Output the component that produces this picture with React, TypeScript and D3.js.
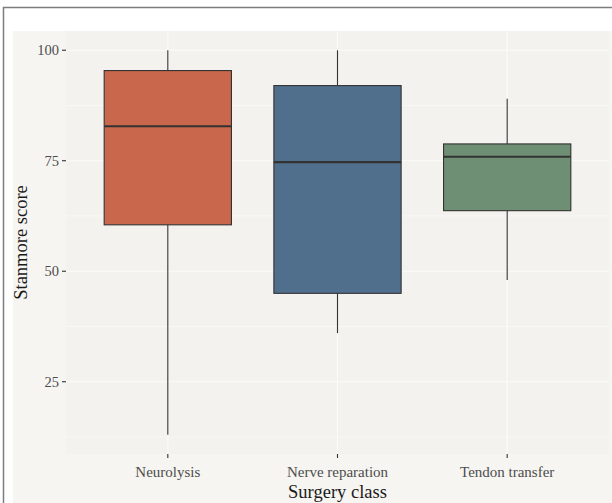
import React from "react";
import * as d3 from "d3";

// Surgery classes and their box-plot summaries (Stanmore score)
const categories = ["Neurolysis", "Nerve reparation", "Tendon transfer"];
const lowerWhisker = [13, 36, 48];
const lowerQuartile = [60.5, 45, 63.7];
const medianValue = [82.8, 74.7, 75.9];
const upperQuartile = [95.4, 92, 78.8];
const upperWhisker = [100, 100, 89];
const fillColors = ["#c8674b", "#4f6f8c", "#6f8f74"];
const yTicks = [25, 50, 75, 100];
const yMinorTicks = [12.5, 37.5, 62.5, 87.5];

const W = 612;
const H = 503;
const panel = { left: 66, right: 609, top: 31, bottom: 454 };
const FONT = "'Liberation Serif', 'Times New Roman', serif";

export default function App() {
  const lo = d3.min(lowerWhisker) as number;
  const hi = d3.max(upperWhisker) as number;
  const pad = (hi - lo) * 0.05;
  const y = d3
    .scaleLinear()
    .domain([lo - pad, hi + pad])
    .range([panel.bottom, panel.top]);
  const x = d3
    .scalePoint<string>()
    .domain(categories)
    .range([panel.left, panel.right])
    .padding(0.6);
  const boxW = x.step() * 0.75;
  const gridColor = "#fbfbf9";

  return (
    <svg
      width={W}
      height={H}
      style={{ position: "absolute", left: 0, top: 0, background: "#ffffff" }}
    >
      <rect x={3.5} y={7.5} width={W + 20} height={H + 20} fill="#ffffff" stroke="#7d7d7d" strokeWidth={1.5} />
      <rect x={13} y={31} width={W} height={H} fill="#f6f5f1" />
      <rect
        x={panel.left}
        y={panel.top}
        width={panel.right - panel.left}
        height={panel.bottom - panel.top}
        fill="#f3f2ee"
      />
      {/* grid */}
      {yMinorTicks.map((t) => (
        <line key={"m" + t} x1={panel.left} x2={panel.right} y1={y(t)} y2={y(t)} stroke={gridColor} strokeWidth={0.6} />
      ))}
      {yTicks.map((t) => (
        <line key={"g" + t} x1={panel.left} x2={panel.right} y1={y(t)} y2={y(t)} stroke={gridColor} strokeWidth={1.1} />
      ))}
      {categories.map((c) => (
        <line key={"v" + c} x1={x(c)} x2={x(c)} y1={panel.top} y2={panel.bottom} stroke={gridColor} strokeWidth={1.1} />
      ))}

      {/* boxes */}
      {categories.map((c, i) => {
        const cx = x(c) as number;
        return (
          <g key={c}>
            <line x1={cx} x2={cx} y1={y(upperWhisker[i])} y2={y(upperQuartile[i])} stroke="#333333" strokeWidth={1.1} />
            <line x1={cx} x2={cx} y1={y(lowerQuartile[i])} y2={y(lowerWhisker[i])} stroke="#333333" strokeWidth={1.1} />
            <rect
              x={cx - boxW / 2}
              y={y(upperQuartile[i])}
              width={boxW}
              height={y(lowerQuartile[i]) - y(upperQuartile[i])}
              fill={fillColors[i]}
              stroke="#333333"
              strokeWidth={1.1}
            />
            <line
              x1={cx - boxW / 2}
              x2={cx + boxW / 2}
              y1={y(medianValue[i])}
              y2={y(medianValue[i])}
              stroke="#333333"
              strokeWidth={2.2}
            />
          </g>
        );
      })}

      {/* y axis */}
      {yTicks.map((t) => (
        <g key={"yt" + t}>
          <line x1={panel.left - 4} x2={panel.left} y1={y(t)} y2={y(t)} stroke="#333333" strokeWidth={1.1} />
          <text
            x={panel.left - 7}
            y={y(t)}
            dy="0.35em"
            textAnchor="end"
            fontFamily={FONT}
            fontSize={14.5}
            fill="#4d4d4d"
          >
            {t}
          </text>
        </g>
      ))}
      {/* x axis */}
      {categories.map((c) => (
        <g key={"xt" + c}>
          <line x1={x(c)} x2={x(c)} y1={panel.bottom} y2={panel.bottom + 4} stroke="#333333" strokeWidth={1.1} />
          <text
            x={x(c)}
            y={panel.bottom + 23}
            textAnchor="middle"
            fontFamily={FONT}
            fontSize={15}
            fill="#4d4d4d"
          >
            {c}
          </text>
        </g>
      ))}
      <text
        x={(panel.left + panel.right) / 2}
        y={498}
        textAnchor="middle"
        fontFamily={FONT}
        fontSize={18.5}
        fill="#1a1a1a"
      >
        Surgery class
      </text>
      <text
        transform={`translate(27, ${(panel.top + panel.bottom) / 2}) rotate(-90)`}
        textAnchor="middle"
        fontFamily={FONT}
        fontSize={18.5}
        fill="#1a1a1a"
      >
        Stanmore score
      </text>
    </svg>
  );
}
